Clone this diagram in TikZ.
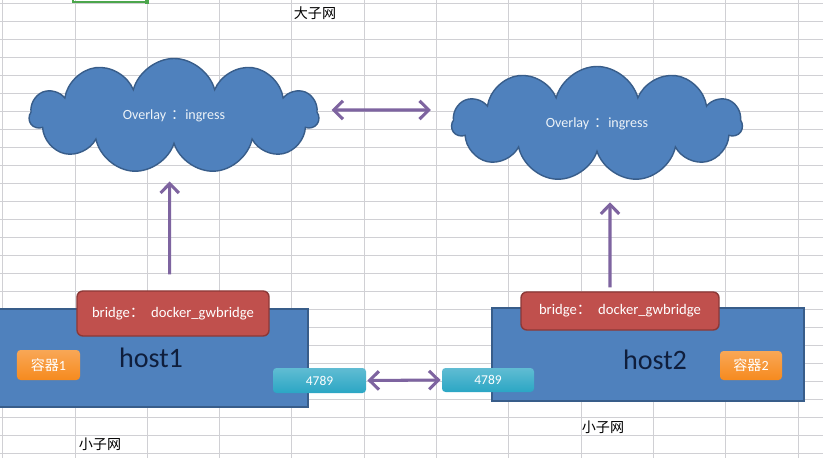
\documentclass[tikz,border=0pt]{standalone}
\usepackage{fontspec}
\setmainfont{Carlito}
\newfontfamily\cjk{Noto Sans CJK SC}
\usetikzlibrary{arrows.meta,shapes.symbols}
\definecolor{OfficeBlue}{HTML}{4F81BD}
\definecolor{OfficeBlueDark}{HTML}{385D8A}
\definecolor{OfficeRed}{HTML}{C0504D}
\definecolor{OfficeRedDark}{HTML}{8C3836}
\definecolor{OfficePurple}{HTML}{7E64A0}
\definecolor{OfficeOrange}{HTML}{F68A1E}
\definecolor{OfficeTeal}{HTML}{2BA6C4}
\definecolor{SheetGrid}{HTML}{D0D0D4}
\definecolor{SheetGreen}{HTML}{4CA64C}
\definecolor{HostInk}{HTML}{0F1E3C}

\begin{document}
\begin{tikzpicture}[x=0.03cm, y=-0.03cm,
    >={Straight Barb[length=2.8mm, width=5.5mm]},
    gridline/.style={draw=SheetGrid, line width=0.5pt},
    net/.style={cloud, cloud puffs=11, cloud ignores aspect, draw=OfficeBlueDark, fill=OfficeBlue,
                line width=1.2pt, text=white!90!OfficeBlue, font=\fontsize{12}{14}\selectfont, inner sep=0pt},
    host/.style={draw=OfficeBlueDark, fill=OfficeBlue, line width=1.6pt},
    hostname/.style={text=HostInk, font=\fontsize{24}{28}\selectfont},
    bridge/.style={draw=OfficeRedDark, fill=OfficeRed, rounded corners=5pt, line width=1.2pt,
                   text=white, font=\fontsize{12.5}{14}\selectfont},
    ctr/.style={top color=OfficeOrange!75!white, bottom color=OfficeOrange, rounded corners=3pt,
                text=white, font=\fontsize{12}{14}\selectfont},
    port/.style={top color=OfficeTeal!75!white, bottom color=OfficeTeal, rounded corners=3pt,
                 text=white, font=\fontsize{11.5}{13}\selectfont},
    link/.style={draw=OfficePurple, line width=2.6pt, <->},
    up/.style={draw=OfficePurple, line width=2.6pt, ->},
    subnet/.style={font=\cjk\fontsize{12}{14}\selectfont},
]
\useasboundingbox (0,0) rectangle (823,458);
\fill[white] (0,0) rectangle (823,458);

% sheet grid
\foreach \gx in {0,...,11}
    \draw[gridline] ({2.5+72.3*\gx},0) -- ({2.5+72.3*\gx},458);
\foreach \gy in {0,...,25}
    \draw[gridline] (0,{3+18*\gy}) -- (823,{3+18*\gy});
\draw[SheetGreen, line width=1.8pt] (73,-4) rectangle (147,2);
\fill[SheetGreen] (145,0) rectangle (149,4);

% overlay networks
\node[net, minimum width=8.67cm, minimum height=3.45cm] (cloudA) at (174,116) {Overlay\hspace{0.35em}{\cjk ：}ingress};
\node[net, minimum width=8.7cm, minimum height=3.45cm] (cloudB) at (597,124) {Overlay\hspace{0.35em}{\cjk ：}ingress};
\draw[link] ([xshift=0.36cm, yshift=0.18cm]cloudA.east) -- ([xshift=-0.6cm, yshift=0.42cm]cloudB.west);

% hosts
\node[host, minimum width=9.3cm, minimum height=2.94cm] (hostA) at (153,358) {};
\node[host, minimum width=9.36cm, minimum height=2.79cm] (hostB) at (648,354.5) {};
\node[hostname] (nameA) at (151,358) {host1};
\node[hostname] (nameB) at (655,360) {host2};

% bridges
\node[bridge, minimum width=5.76cm, minimum height=1.35cm] (bridgeA) at (173,313.5) {bridge{\cjk ：}\ \ docker\_gwbridge};
\node[bridge, minimum width=5.94cm, minimum height=1.14cm] (bridgeB) at (620,311) {bridge{\cjk ：}\ \ docker\_gwbridge};
\draw[up] ([xshift=-0.1cm, yshift=0.48cm]bridgeA.north) -- ([xshift=-0.13cm, yshift=-1.08cm]cloudA.south);
\draw[up] ([xshift=-0.3cm, yshift=0.12cm]bridgeB.north) -- ([xshift=0.39cm, yshift=-1.47cm]cloudB.south);

% containers
\node[ctr, minimum width=1.89cm, minimum height=0.9cm] (ctrA) at (48.5,365) {{\cjk 容器}1};
\node[ctr, minimum width=1.86cm, minimum height=0.87cm] (ctrB) at (751,365.5) {{\cjk 容器}2};

% vxlan ports
\node[port, minimum width=2.79cm, minimum height=0.75cm] (portA) at (319.5,380.5) {\raisebox{-0.12cm}{4789}};
\node[port, minimum width=2.76cm, minimum height=0.72cm] (portB) at (488,380) {\raisebox{-0.06cm}{4789}};
\draw[link, shorten <=1pt, shorten >=1pt] (portA.east) -- (portB.west);

% labels
\node[subnet] (bigNet) at (315,13) {大子网};
\node[subnet] (subA) at (100,444) {小子网};
\node[subnet] (subB) at (603,427) {小子网};
\end{tikzpicture}
\end{document}
